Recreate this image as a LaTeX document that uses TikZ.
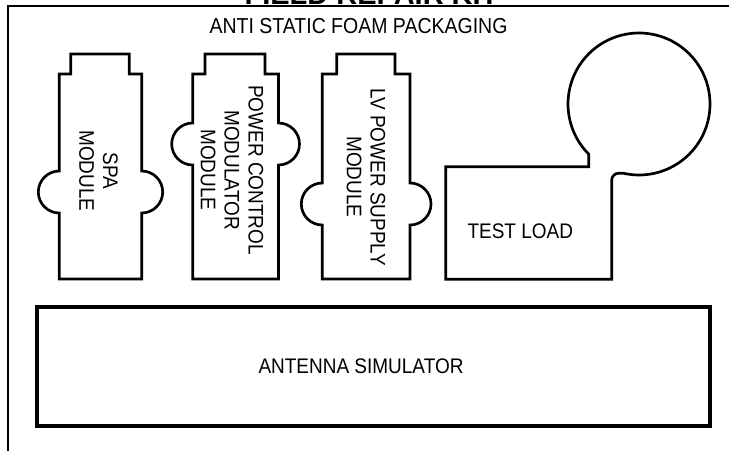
\documentclass[tikz,border=0pt]{standalone}
\usepackage{fontspec}
\setmainfont{Liberation Sans}
\newfontfamily\kitfont[FakeStretch = 0.9]{Liberation Sans}
\usepackage{tikz}

\begin{document}
\begin{tikzpicture}[x = 0.025cm, y = 0.025cm,
            part/.style = {black, line width = 1.9pt},
            kittext/.style = {font = \kitfont\fontsize{15}{17}\selectfont, align = center, inner sep = 0pt}]
            %\draw [step = 10, help lines] (0,0) grid (729,450);
            \clip (0,0) rectangle (729,450);
            \fill [white] (0,0) rectangle (729,450);

            % packaging frame, runs off the page
            \draw [black, line width = 2pt] (8,-20) rectangle (780,444);
            \node [anchor = base, font = \fontsize{20.6}{24}\selectfont\bfseries, inner sep = 0pt] (title) at (371.5,446) {FIELD REPAIR KIT};
            \node [kittext, anchor = base, font = \kitfont\fontsize{15.4}{17}\selectfont] (packaging) at (358.5,417) {ANTI STATIC FOAM PACKAGING};

            % SPA module
            \draw [part] (70.7,396) -- (129.3,396) -- (129.3,376) -- (141.7,376) -- (141.7,279)
                arc [start angle = 90, end angle = -90, radius = 21] -- (141.7,171) -- (59.3,171) -- (59.3,237)
                arc [start angle = 270, end angle = 90, radius = 21] -- (59.3,376) -- (70.7,376) -- cycle;
            \node [kittext, rotate = -90] (spa) at (98.5,279) {SPA\\MODULE};

            % power control modulator module
            \draw [part] (205,396) -- (265,396) -- (265,376) -- (278.5,376) -- (278.5,327)
                arc [start angle = 90, end angle = -90, radius = 21] -- (278.5,171) -- (192.7,171) -- (192.7,285)
                arc [start angle = 270, end angle = 90, radius = 21] -- (192.7,376) -- (205,376) -- cycle;
            \node [kittext, rotate = -90] (pcm) at (232,280) {POWER CONTROL\\MODULATOR\\MODULE};

            % LV power supply module
            \draw [part] (336.7,396) -- (395,396) -- (395,376) -- (410,376) -- (410,267)
                arc [start angle = 90, end angle = -90, radius = 21] -- (410,171) -- (322.3,171) -- (322.3,225)
                arc [start angle = 270, end angle = 90, radius = 21] -- (322.3,376) -- (336.7,376) -- cycle;
            \node [kittext, rotate = -90] (lv) at (366,273) {LV POWER SUPPLY\\MODULE};

            % test load
            \draw [part] (445.7,283.3) -- (588.8,283.3) -- ([shift = {(639,346)}] 225:71)
                arc [start angle = 225, end angle = -103, radius = 71]
                [rounded corners = 5pt] -- (611.7,276.8) [sharp corners] -- (611.7,170.7) -- (445.7,170.7) -- cycle;
            \node [kittext] (testload) at (520.3,218.3) {TEST LOAD};

            % antenna simulator
            \draw [black, line width = 2.3pt] (37,24) rectangle (710,143);
            \node [kittext] (antenna) at (361,84) {ANTENNA SIMULATOR};
\end{tikzpicture}
\end{document}
